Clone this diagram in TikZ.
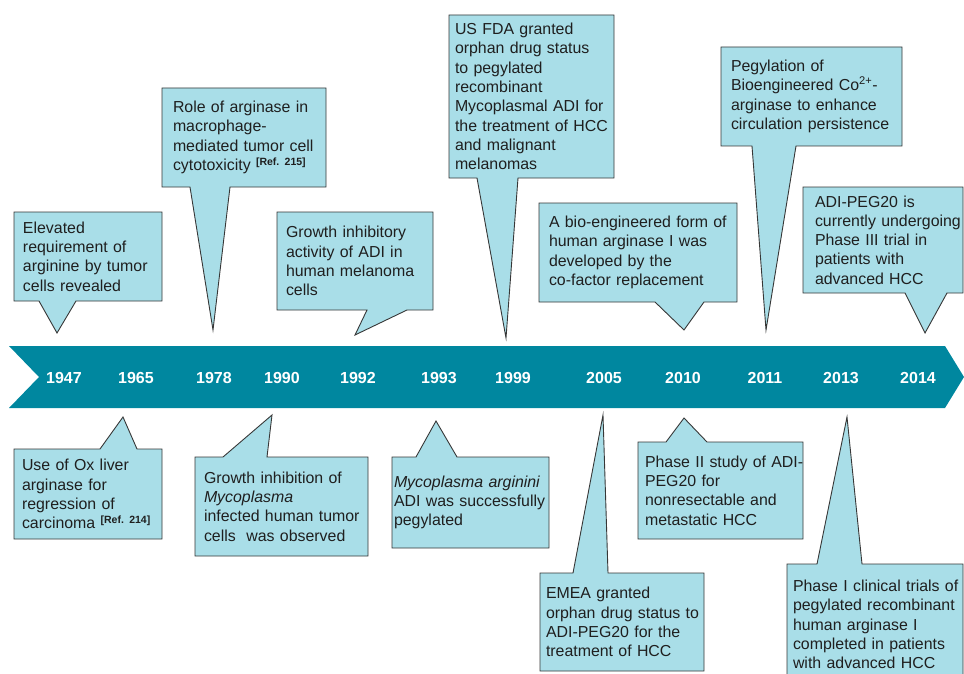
\documentclass[tikz,border=0pt]{standalone}
\usepackage{fontspec}
\setmainfont{Liberation Sans}
\usetikzlibrary{backgrounds}
\hyphenpenalty=10000
\exhyphenpenalty=10000
\definecolor{bandteal}{RGB}{0,135,159}
\definecolor{callblue}{RGB}{169,222,232}
\definecolor{calledge}{RGB}{55,55,55}
\newcommand\refmark[1]{\raisebox{5.5pt}{\fontsize{10.5}{10.5}\selectfont\bfseries[#1]}}
\begin{document}
\begin{tikzpicture}[x=1pt, y=-1pt,
  every node/.style={font=\fontsize{15.9}{19.3}\selectfont, text=black!88},
  callbox/.style={anchor=north west, align=left, inner ysep=0pt, inner xsep=#1, outer sep=0pt},
  callbox/.default=9pt,
  callout/.style={fill=callblue, draw=calledge, line width=0.9pt, line join=miter},
  year/.style={text=white, font=\fontsize{16}{16}\selectfont\bfseries}]
\useasboundingbox (0,0) rectangle (964,674);
% time band
\fill[bandteal] (9,346) -- (945,346) -- (964,377) -- (945,408) -- (9,408) -- (39,377) -- cycle;
\foreach \yr/\xx in {1947/64, 1965/136, 1978/214, 1990/282, 1992/358, 1993/439,
                     1999/513, 2005/604, 2010/683, 2011/765, 2013/841, 2014/918}
  \node[year] (y\yr) at (\xx,378) {\yr};
% pointer tips
\coordinate (t1947) at (57,333);
\coordinate (t1978) at (213,330);
\coordinate (t1992) at (355,335);
\coordinate (t1999) at (506,338);
\coordinate (t2010a) at (684,330);
\coordinate (t2011) at (766,330);
\coordinate (t2014) at (925,333);
\coordinate (t1965) at (123,417);
\coordinate (t1990) at (272,415);
\coordinate (t1993) at (436,421);
\coordinate (t2005) at (603,415);
\coordinate (t2010b) at (684,418);
\coordinate (t2013) at (847,417);
% callouts above the band
\node[callbox=9pt, text width=130pt, minimum height=89pt] (elev) at (14,212)
  {Elevated\\requirement of\\arginine by tumor\\cells revealed};
\node[callbox=11pt, text width=142pt, minimum height=99pt] (role) at (162,88)
  {Role of arginase in\\macrophage-\\mediated tumor cell\\cytotoxicity \refmark{Ref.\ 215}};
\node[callbox=9pt, text width=138pt, minimum height=98pt] (grinh) at (277,212)
  {Growth inhibitory\\activity of ADI in\\human melanoma\\cells};
\node[callbox=6pt, text width=153pt, minimum height=163pt] (fda) at (449,15)
  {US FDA granted\\orphan drug status\\to pegylated\\recombinant\\Mycoplasmal ADI for\\\mbox{the treatment of HCC}\\and malignant\\melanomas};
\node[callbox=10pt, text width=178pt, minimum height=99pt] (bio) at (539,203)
  {\mbox{A bio-engineered form of}\\human arginase I was\\developed by the\\co-factor replacement};
\node[callbox=10pt, text width=161pt, minimum height=99pt] (peg) at (721,47)
  {Pegylation of\\Bioengineered Co\textsuperscript{2+}-\\arginase to enhance\\\mbox{circulation persistence}};
\node[callbox=12pt, text width=136pt, minimum height=106pt] (adi) at (803,187)
  {ADI-PEG20 is\\\mbox{currently undergoing}\\Phase III trial in\\patients with\\advanced HCC};
% callouts below the band
\node[callbox=8pt, text width=132pt, minimum height=90pt] (ox) at (14,449)
  {Use of Ox liver\\arginase for\\regression of\\carcinoma \refmark{Ref.\ 214}};
\node[callbox=9pt, text width=155pt, minimum height=99pt] (myco) at (195,457)
  {Growth inhibition of\\\textit{Mycoplasma}\\\mbox{infected human tumor}\\cells\ \ was observed};
\node[callbox=2pt, text width=153pt, minimum height=91pt] (argi) at (392,457)
  {\textit{Mycoplasma arginini}\\\mbox{ADI was successfully}\\pegylated};
\node[callbox=6pt, text width=152pt, minimum height=98pt] (emea) at (540,573)
  {EMEA granted\\\mbox{orphan drug status to}\\ADI-PEG20 for the\\treatment of HCC};
\node[callbox=7pt, text width=151pt, minimum height=97pt] (ph2) at (638,442)
  {\mbox{Phase II study of ADI-}\\PEG20 for\\nonresectable and\\metastatic HCC};
\node[callbox=6pt, text width=164pt, minimum height=121pt] (ph1) at (787,564)
  {\mbox{Phase I clinical trials of}\\pegylated recombinant\\human arginase I\\completed in patients\\with advanced HCC};
% boxes with their pointers
\begin{scope}[on background layer]
\draw[callout] (elev.north west) -- (elev.north east) -- (elev.south east) -- (76,0 |- elev.south) -- (t1947) -- (39,0 |- elev.south) -- (elev.south west) -- cycle;
\draw[callout] (role.north west) -- (role.north east) -- (role.south east) -- (230,0 |- role.south) -- (t1978) -- (190,0 |- role.south) -- (role.south west) -- cycle;
\draw[callout] (grinh.north west) -- (grinh.north east) -- (grinh.south east) -- (407,0 |- grinh.south) -- (t1992) -- (367,0 |- grinh.south) -- (grinh.south west) -- cycle;
\draw[callout] (fda.north west) -- (fda.north east) -- (fda.south east) -- (518,0 |- fda.south) -- (t1999) -- (477,0 |- fda.south) -- (fda.south west) -- cycle;
\draw[callout] (bio.north west) -- (bio.north east) -- (bio.south east) -- (704,0 |- bio.south) -- (t2010a) -- (655,0 |- bio.south) -- (bio.south west) -- cycle;
\draw[callout] (peg.north west) -- (peg.north east) -- (peg.south east) -- (796,0 |- peg.south) -- (t2011) -- (752,0 |- peg.south) -- (peg.south west) -- cycle;
\draw[callout] (adi.north west) -- (adi.north east) -- (adi.south east) -- (947,0 |- adi.south) -- (t2014) -- (905,0 |- adi.south) -- (adi.south west) -- cycle;
\draw[callout] (ox.north west) -- (100,0 |- ox.north) -- (t1965) -- (137,0 |- ox.north) -- (ox.north east) -- (ox.south east) -- (ox.south west) -- cycle;
\draw[callout] (myco.north west) -- (223,0 |- myco.north) -- (t1990) -- (267,0 |- myco.north) -- (myco.north east) -- (myco.south east) -- (myco.south west) -- cycle;
\draw[callout] (argi.north west) -- (416,0 |- argi.north) -- (t1993) -- (457,0 |- argi.north) -- (argi.north east) -- (argi.south east) -- (argi.south west) -- cycle;
\draw[callout] (emea.north west) -- (573,0 |- emea.north) -- (t2005) -- (608,0 |- emea.north) -- (emea.north east) -- (emea.south east) -- (emea.south west) -- cycle;
\draw[callout] (ph2.north west) -- (666,0 |- ph2.north) -- (t2010b) -- (707,0 |- ph2.north) -- (ph2.north east) -- (ph2.south east) -- (ph2.south west) -- cycle;
\draw[callout] (ph1.north west) -- (817,0 |- ph1.north) -- (t2013) -- (862,0 |- ph1.north) -- (ph1.north east) -- (ph1.south east) -- (ph1.south west) -- cycle;
\end{scope}
\end{tikzpicture}
\end{document}
